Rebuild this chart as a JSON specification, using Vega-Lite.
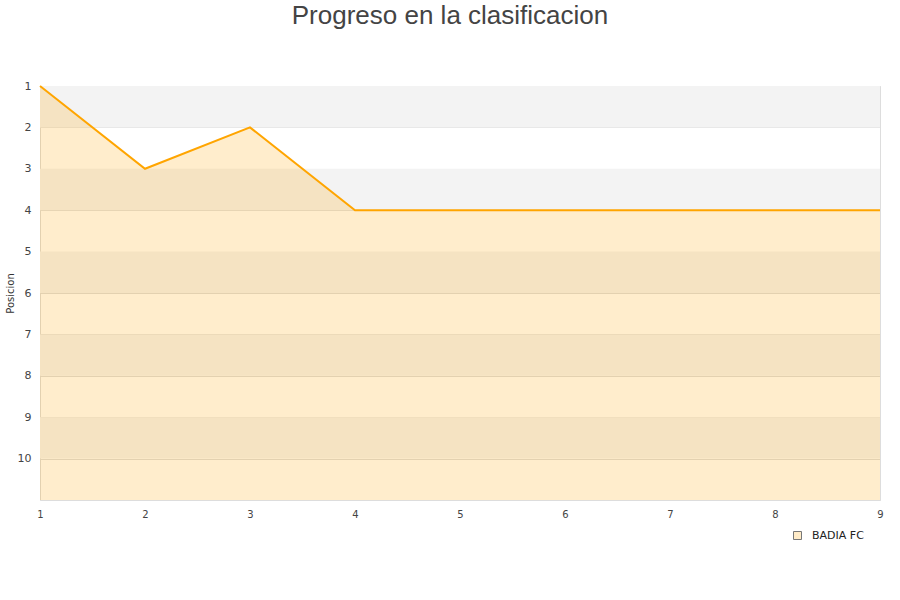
{
  "$schema": "https://vega.github.io/schema/vega-lite/v6.json",
  "width": 840,
  "height": 414,
  "autosize": "none",
  "padding": {"left": 40, "top": 86, "right": 20, "bottom": 100},
  "background": "white",
  "title": {
    "text": "Progreso en la clasificacion",
    "fontSize": 26,
    "font": "Liberation Sans",
    "fontWeight": "normal",
    "color": "#444444",
    "anchor": "middle",
    "dx": -10,
    "offset": 51
  },
  "config": {
    "view": {"stroke": "#dddddd", "strokeWidth": 1},
    "axis": {"labelFont": "DejaVu Sans", "titleFont": "DejaVu Sans", "labelColor": "#444444", "titleColor": "#333333", "labelFontSize": 11},
    "legend": {"symbolStrokeColor": "#777777", "symbolStrokeWidth": 1}
  },
  "datasets": {
    "bands": [
      {"a": 1, "b": 2}, {"a": 3, "b": 4}, {"a": 5, "b": 6}, {"a": 7, "b": 8}, {"a": 9, "b": 10}
    ],
    "pos": [
      {"jornada": 1, "posicion": 1, "equipo": "BADIA FC"},
      {"jornada": 2, "posicion": 3, "equipo": "BADIA FC"},
      {"jornada": 3, "posicion": 2, "equipo": "BADIA FC"},
      {"jornada": 4, "posicion": 4, "equipo": "BADIA FC"},
      {"jornada": 5, "posicion": 4, "equipo": "BADIA FC"},
      {"jornada": 6, "posicion": 4, "equipo": "BADIA FC"},
      {"jornada": 7, "posicion": 4, "equipo": "BADIA FC"},
      {"jornada": 8, "posicion": 4, "equipo": "BADIA FC"},
      {"jornada": 9, "posicion": 4, "equipo": "BADIA FC"}
    ]
  },
  "layer": [
    {
      "data": {"name": "bands"},
      "mark": {"type": "rect", "color": "#f3f3f3"},
      "encoding": {
        "y": {"field": "a", "type": "quantitative", "scale": {"domain": [1, 11], "reverse": true, "nice": false, "zero": false},
          "axis": {"title": "Posicion", "titleFontSize": 10, "titleFontWeight": "normal", "values": [1,2,3,4,5,6,7,8,9,10], "format": "d", "grid": true, "gridColor": "#dddddd", "ticks": false, "domain": false, "labelPadding": 9, "titlePadding": 2, "labelFontSize": 11}},
        "y2": {"field": "b"}
      }
    },
    {
      "data": {"name": "pos"},
      "mark": {"type": "area", "fillOpacity": 0.2, "stroke": "#777777", "strokeWidth": 0},
      "encoding": {
        "x": {"field": "jornada", "type": "quantitative", "scale": {"domain": [1, 9], "nice": false},
          "axis": {"title": null, "values": [1,2,3,4,5,6,7,8,9], "format": "d", "grid": false, "ticks": false, "domain": true, "domainColor": "#dddddd", "labelPadding": 9, "labelFontSize": 10, "labelFlush": false}},
        "y": {"field": "posicion", "type": "quantitative"},
        "y2": {"datum": 11},
        "fill": {"field": "equipo", "type": "nominal", "scale": {"domain": ["BADIA FC"], "range": ["#ffa500"]},
          "legend": {"title": null, "orient": "none", "legendX": 752, "legendY": 444, "symbolType": "square", "symbolSize": 64, "symbolStrokeColor": "#777777", "symbolStrokeWidth": 1, "labelOffset": 9, "labelFont": "DejaVu Sans", "labelFontSize": 11, "labelColor": "#222222",
            "encode": {"symbols": {"update": {"fillOpacity": {"value": 0.22}}}}}}
      }
    },
    {
      "data": {"name": "pos"},
      "mark": {"type": "line", "color": "#ffa500", "strokeWidth": 2},
      "encoding": {
        "x": {"field": "jornada", "type": "quantitative"},
        "y": {"field": "posicion", "type": "quantitative"}
      }
    }
  ]
}
